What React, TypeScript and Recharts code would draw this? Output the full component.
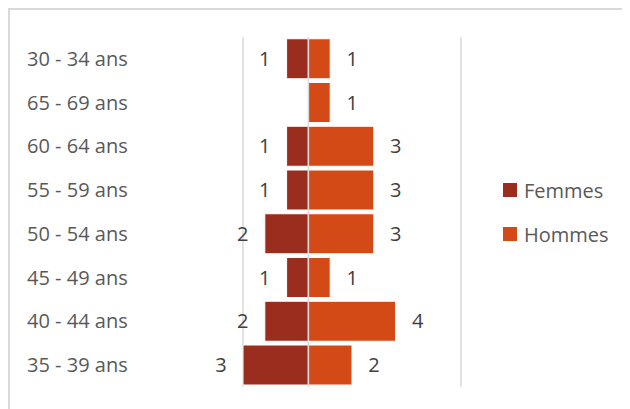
import { BarChart, Bar, XAxis, YAxis, CartesianGrid, Legend, LabelList, ReferenceLine, Customized } from 'recharts';

const ageGroups = ['30 - 34 ans', '65 - 69 ans', '60 - 64 ans', '55 - 59 ans', '50 - 54 ans', '45 - 49 ans', '40 - 44 ans', '35 - 39 ans'];
const femmes = [1, 0, 1, 1, 2, 1, 2, 3];
const hommes = [1, 1, 3, 3, 3, 1, 4, 2];
const axisTicks = [-3, 2, 7];

// femmes go left of the axis, so they are stored negative in the chart rows
const data = ageGroups.map((age, i) => ({
  age,
  Femmes: femmes[i] ? -femmes[i] : null,
  Hommes: hommes[i] ? hommes[i] : null,
}));

const FONT = '"Open Sans", sans-serif';
const FEMMES_COLOR = '#9B2D1F';
const HOMMES_COLOR = '#D44A17';
const GRID = '#d9d9d9';

function AgeTick(props: any) {
  const { y, payload } = props;
  return (
    <text x={27} y={y} dy="0.35em" fill="#595959" fontSize={20} fontFamily={FONT}>
      {payload.value}
    </text>
  );
}

const valueLabel = (side: 'left' | 'right') => (props: any) => {
  const { x, y, width, height, value } = props;
  if (!value) return null;
  const left = Math.min(x, x + width);
  const right = Math.max(x, x + width);
  const cx = side === 'left' ? left - 22 : right + 22;
  return (
    <text x={cx} y={y + height / 2} dy="0.35em" textAnchor="middle" fill="#404040" fontSize={20} fontFamily={FONT}>
      {Math.abs(value)}
    </text>
  );
};

// caption of the document, only its lower edge shows above the frame
function Caption() {
  return (
    <text x={8} y={1.5} fontFamily={FONT} fontWeight={700} fontSize={20} fill="#A9391D">
      Figure 3 : Pyramide des âges des enseignants du département de géographie
    </text>
  );
}

function LegendBox() {
  const items = [
    { name: 'Femmes', color: FEMMES_COLOR },
    { name: 'Hommes', color: HOMMES_COLOR },
  ];
  return (
    <div style={{ fontFamily: FONT }}>
      {items.map((it) => (
        <div key={it.name} style={{ display: 'flex', alignItems: 'center', height: 44 }}>
          <span style={{ width: 14, height: 14, background: it.color, marginRight: 7, display: 'inline-block' }} />
          <span style={{ fontSize: 20, color: '#595959' }}>{it.name}</span>
        </div>
      ))}
    </div>
  );
}

export default function App() {
  return (
    <div style={{ position: 'relative', width: 630, height: 409, margin: '-8px 0 0 -8px', overflow: 'hidden', background: '#fff' }}>
      <div
        style={{
          position: 'absolute',
          left: 8,
          top: 8,
          width: 700,
          height: 500,
          border: `2px solid ${GRID}`,
          boxSizing: 'border-box',
        }}
      />
      <div style={{ position: 'absolute', left: 0, top: 0 }}>
        <BarChart
          width={630}
          height={409}
          data={data}
          layout="vertical"
          stackOffset="sign"
          barCategoryGap="4%"
          margin={{ top: 37, right: 169, bottom: 22, left: 0 }}
        >
          <CartesianGrid horizontal={false} stroke={GRID} strokeWidth={1.5} />
          <XAxis type="number" domain={[-3, 7]} ticks={axisTicks} tick={false} axisLine={false} tickLine={false} height={0} />
          <YAxis type="category" dataKey="age" width={243} tick={<AgeTick />} axisLine={false} tickLine={false} />
          <Legend
            layout="horizontal"
            align="center"
            verticalAlign="middle"
            content={<LegendBox />}
            wrapperStyle={{ left: 503, top: 168, width: 130 }}
          />
          <Bar dataKey="Femmes" stackId="a" fill={FEMMES_COLOR} stroke="#ffffff" strokeWidth={1} isAnimationActive={false}>
            <LabelList dataKey="Femmes" content={valueLabel('left')} />
          </Bar>
          <Bar dataKey="Hommes" stackId="a" fill={HOMMES_COLOR} stroke="#ffffff" strokeWidth={1} isAnimationActive={false}>
            <LabelList dataKey="Hommes" content={valueLabel('right')} />
          </Bar>
          <ReferenceLine x={0} stroke={GRID} strokeWidth={1.5} />
          <Customized component={<Caption />} />
        </BarChart>
      </div>
    </div>
  );
}
